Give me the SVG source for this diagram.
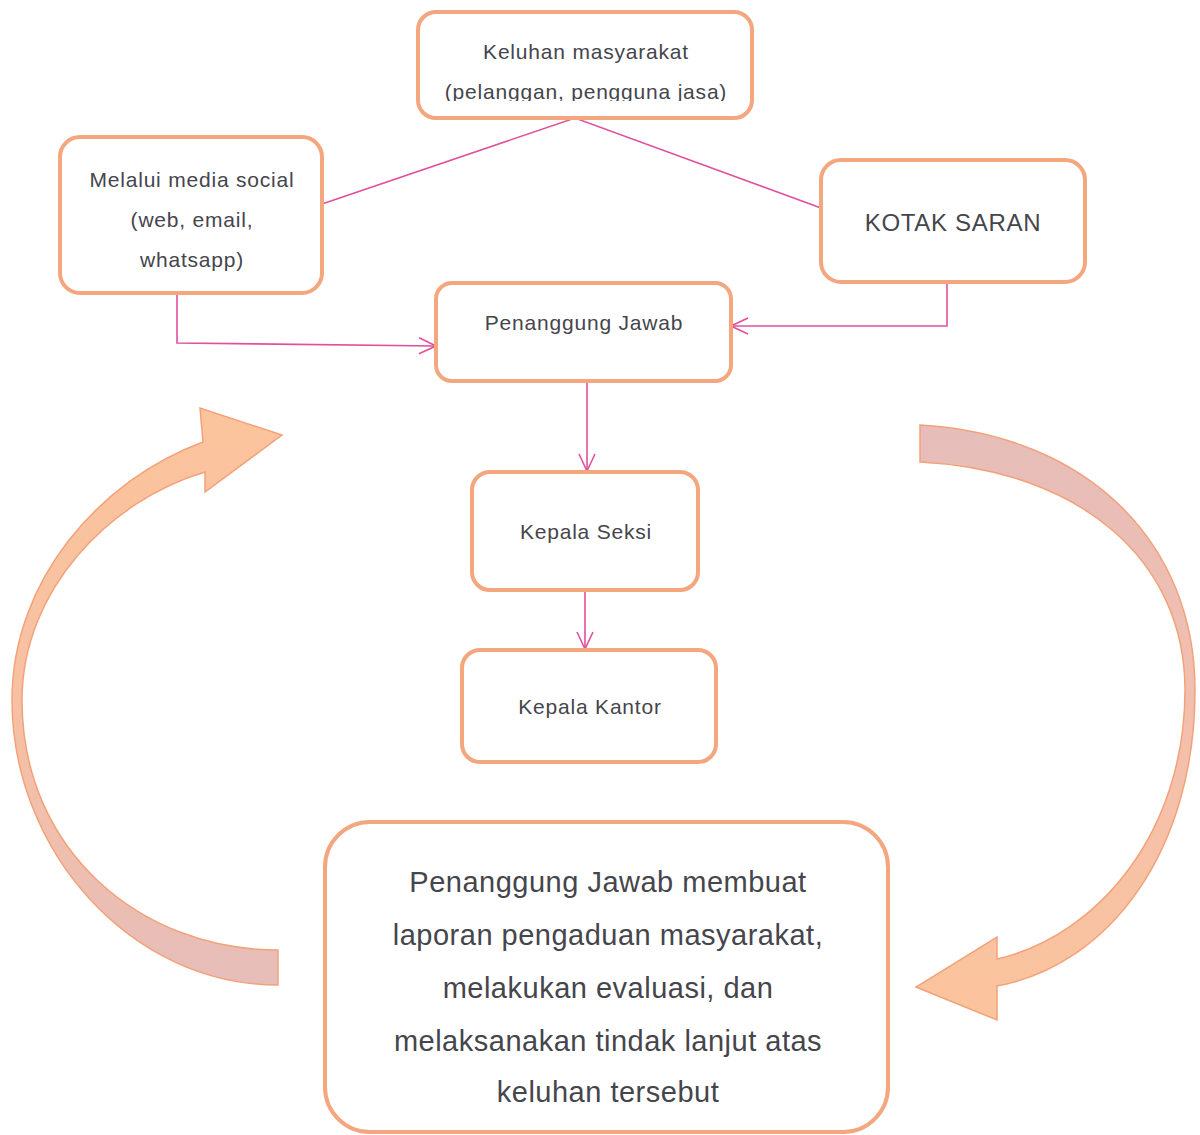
<svg xmlns="http://www.w3.org/2000/svg" width="1200" height="1135" viewBox="0 0 1200 1135">
<defs>
<style>
.node{fill:#fff;stroke:#F4A67E;stroke-width:4}
.t{font-family:"Liberation Sans",Arial,sans-serif;fill:#45454c;text-anchor:middle}
.s{font-size:21px;letter-spacing:0.8px}
.b{font-size:29px;letter-spacing:0.5px}
.c{fill:none;stroke:#E0509C;stroke-width:1.6}
</style>
<marker id="ah" viewBox="0 0 20 20" refX="19" refY="10" markerWidth="20" markerHeight="20" markerUnits="userSpaceOnUse" orient="auto">
<path d="M2,2 L19,10 L2,18" fill="none" stroke="#E0509C" stroke-width="1.6"/>
</marker>
<linearGradient id="gl" x1="0" y1="0" x2="0" y2="1">
<stop offset="0" stop-color="#FBC49C"/>
<stop offset="0.55" stop-color="#F7C0A4"/>
<stop offset="1" stop-color="#E6BDBA"/>
</linearGradient>
<linearGradient id="gr" x1="0" y1="0" x2="0" y2="1">
<stop offset="0" stop-color="#E6BDBA"/>
<stop offset="0.45" stop-color="#F2BFAF"/>
<stop offset="1" stop-color="#FBC49C"/>
</linearGradient>
<clipPath id="clipTop"><rect x="418" y="12" width="334" height="89"/></clipPath>
</defs>
<rect width="1200" height="1135" fill="#fff"/>

<g id="connectors">
<polyline class="c" points="322,204 575,118 821,208"/>
<polyline class="c" points="177,293 177,343 436,346" marker-end="url(#ah)"/>
<polyline class="c" points="947,282 947,326 731,326" marker-end="url(#ah)"/>
<line class="c" x1="587" y1="381" x2="587" y2="471" marker-end="url(#ah)"/>
<line class="c" x1="585" y1="590" x2="585" y2="649" marker-end="url(#ah)"/>
</g>

<g id="cycle-left">
<path fill="url(#gl)" stroke="#F2A27A" stroke-width="1.5" d="M278,985 C130,985 12,850 12,700 C12,580 100,480 203,442 L200,408 L282,435 L205,492 L205,472 C110,500 22,590 22,700 C22,850 140,950 278,950 Z"/>
</g>
<g id="cycle-right">
<path fill="url(#gr)" stroke="#F2A27A" stroke-width="1.5" d="M920,425 C1090,435 1195,545 1195,690 C1195,850 1110,965 997,986 L997,1020 L916,987 L997,937 L997,959 C1100,935 1185,830 1185,690 C1185,560 1080,470 920,462 Z"/>
</g>

<g id="keluhan">
<rect class="node" x="418" y="12" width="334" height="106" rx="18"/>
<text class="t s" x="586" y="59">Keluhan masyarakat</text>
<text class="t s" x="586" y="99" clip-path="url(#clipTop)">(pelanggan, pengguna jasa)</text>
</g>

<g id="media-social">
<rect class="node" x="60" y="137" width="262" height="156" rx="20"/>
<text class="t s" x="192" y="187">Melalui media social</text>
<text class="t s" x="192" y="227">(web, email,</text>
<text class="t s" x="192" y="267">whatsapp)</text>
</g>

<g id="kotak-saran">
<rect class="node" x="821" y="160" width="264" height="122" rx="20"/>
<text class="t" x="953" y="231" font-size="24" letter-spacing="0.7">KOTAK SARAN</text>
</g>

<g id="penanggung-jawab">
<rect class="node" x="436" y="283" width="295" height="98" rx="16"/>
<text class="t s" x="584" y="330">Penanggung Jawab</text>
</g>

<g id="kepala-seksi">
<rect class="node" x="472" y="472" width="226" height="118" rx="18"/>
<text class="t s" x="586" y="539">Kepala Seksi</text>
</g>

<g id="kepala-kantor">
<rect class="node" x="462" y="650" width="254" height="112" rx="18"/>
<text class="t s" x="590" y="714">Kepala Kantor</text>
</g>

<g id="laporan">
<rect class="node" x="325" y="822" width="563" height="310" rx="45"/>
<text class="t b" x="608" y="892">Penanggung Jawab membuat</text>
<text class="t b" x="608" y="945">laporan pengaduan masyarakat,</text>
<text class="t b" x="608" y="998">melakukan evaluasi, dan</text>
<text class="t b" x="608" y="1051">melaksanakan tindak lanjut atas</text>
<text class="t b" x="608" y="1102">keluhan tersebut</text>
</g>
</svg>
